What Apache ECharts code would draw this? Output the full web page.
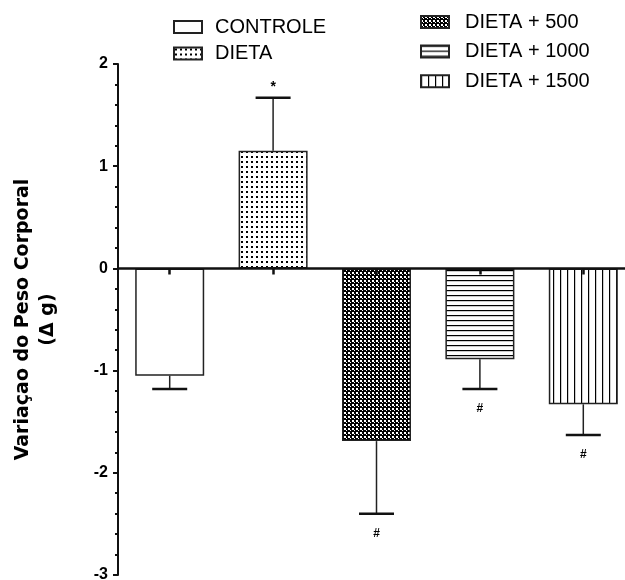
<!DOCTYPE html>
<html><head><meta charset="utf-8">
<script src="https://cdn.jsdelivr.net/npm/echarts@6/dist/echarts.min.js"></script>
<style>html,body{margin:0;padding:0;background:#fff}#c{width:625px;height:580px}</style>
</head><body><div id="c"></div>
<script>
const categories = ['CONTROLE', 'DIETA', 'DIETA + 500', 'DIETA + 1000', 'DIETA + 1500'];
const means = [-1.05, 1.15, -1.69, -0.89, -1.33];
const sems = [0.13, 0.52, 0.71, 0.29, 0.30];
const marks = ['', '*', '#', '#', '#'];
const yMin = -3, yMax = 2, yInterval = 1;

function tile(w, h, draw) {
  const c = document.createElement('canvas');
  c.width = w; c.height = h;
  const g = c.getContext('2d');
  g.fillStyle = '#fff'; g.fillRect(0, 0, w, h);
  g.fillStyle = '#000';
  draw(g);
  return { image: c, repeat: 'repeat' };
}
const patterns = [
  '#fff',
  tile(5, 5, g => { g.fillRect(1, 1, 2, 2); }),
  tile(4, 4, g => { g.fillRect(0, 0, 4, 4); g.fillStyle = '#fff'; g.fillRect(0, 0, 2, 2); g.fillRect(2, 2, 1, 1); }),
  tile(1, 5.3, g => { g.fillRect(0, 0, 1, 1.2); }),
  tile(7, 1, g => { g.fillRect(0, 0, 1.2, 1); })
];

const FONT = "'Liberation Sans', Arial, sans-serif";
const chart = echarts.init(document.getElementById('c'), null, { renderer: 'canvas' });

const barSeries = categories.map((name, i) => ({
  type: 'bar',
  name: name,
  data: categories.map((c, j) => (j === i ? means[i] : '-')),
  barWidth: 69,
  barGap: '-100%',
  itemStyle: { color: patterns[i], borderColor: '#222', borderWidth: 1.5 },
  emphasis: { disabled: true },
  z: 2
}));

const errSeries = {
  type: 'custom',
  name: 'err',
  data: categories.map((c, i) => [i, means[i], sems[i]]),
  encode: { x: 0, y: 1 },
  z: 6,
  renderItem: function (params, api) {
    const i = api.value(0), m = api.value(1), s = api.value(2);
    const dir = m >= 0 ? 1 : -1;
    const p0 = api.coord([i, m]);
    const p1 = api.coord([i, m + dir * s]);
    const children = [
      { type: 'line', shape: { x1: p0[0], y1: p0[1], x2: p1[0], y2: p1[1] }, style: { stroke: '#222', lineWidth: 1.5 } },
      { type: 'line', shape: { x1: p1[0] - 17.5, y1: p1[1], x2: p1[0] + 17.5, y2: p1[1] }, style: { stroke: '#111', lineWidth: 2.5 } }
    ];
    const mk = marks[params.dataIndex];
    if (mk) {
      children.push({
        type: 'text',
        style: {
          text: mk, x: p1[0], y: p1[1] + (dir > 0 ? -11 : 20),
          align: 'center', verticalAlign: 'middle',
          font: 'bold ' + (mk === '*' ? 14 : 12) + 'px ' + FONT, fill: '#000'
        }
      });
    }
    return { type: 'group', children: children };
  }
};

const legendCommon = {
  orient: 'vertical',
  icon: 'rect',
  itemWidth: 28,
  itemHeight: 12,
  padding: 0,
  selectedMode: false,
  textStyle: { fontFamily: FONT, fontSize: 20, color: '#000', lineHeight: 20, padding: [0, 0, 0, 8] }
};

chart.setOption({
  animation: false,
  backgroundColor: '#fff',
  legend: [
    Object.assign({}, legendCommon, { data: categories.slice(0, 2), left: 173, top: 17, itemGap: 6.5 }),
    Object.assign({}, legendCommon, { data: categories.slice(2), left: 420, top: 12, itemGap: 9.6,
      textStyle: Object.assign({}, legendCommon.textStyle, { padding: [0, 0, 0, 11] }) })
  ],
  grid: { left: 118, top: 64, width: 517, bottom: 5, containLabel: false, outerBoundsMode: 'none' },
  xAxis: {
    type: 'category',
    data: categories,
    z: 5,
    axisLine: { onZero: true, lineStyle: { color: '#111', width: 2.5 } },
    axisTick: { show: true, alignWithLabel: true, length: 6, lineStyle: { color: '#111', width: 2.5 } },
    axisLabel: { show: false },
    splitLine: { show: false }
  },
  yAxis: {
    type: 'value',
    min: yMin, max: yMax, interval: yInterval,
    name: 'Variaçao do Peso Corporal\n(Δ g)',
    nameLocation: 'middle',
    nameRotate: 90,
    nameGap: 57,
    nameTextStyle: { fontFamily: "'DejaVu Sans', sans-serif", fontWeight: 'bold', fontSize: 19, color: '#000', lineHeight: 25 },
    axisLine: { show: true, lineStyle: { color: '#111', width: 2 } },
    axisTick: { show: true, length: 5, lineStyle: { color: '#111', width: 2 } },
    minorTick: { show: true, splitNumber: 5, length: 3, lineStyle: { color: '#111', width: 2 } },
    axisLabel: { fontFamily: FONT, fontWeight: 'bold', fontSize: 16, color: '#000', margin: 10 },
    splitLine: { show: false }
  },
  series: barSeries.concat([errSeries])
});
</script></body></html>
